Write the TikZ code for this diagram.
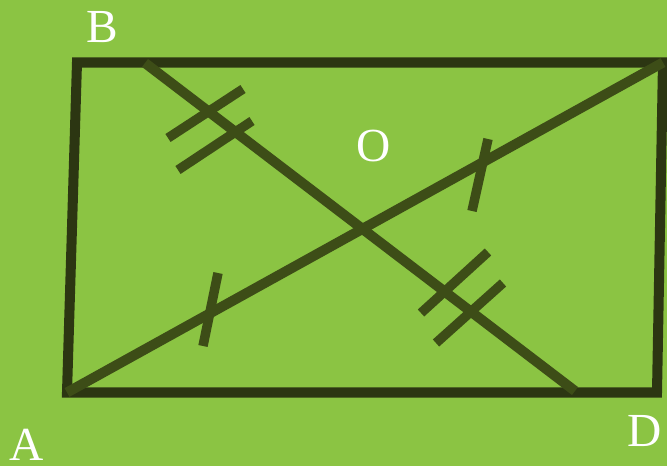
\documentclass[tikz,border=0pt]{standalone}
\usepackage{fontspec}
\setmainfont{Liberation Serif}
\usetikzlibrary{positioning}
\definecolor{leaf}{HTML}{8BC443}
\definecolor{frame}{HTML}{2C3612}
\definecolor{diag}{HTML}{3D4D17}

\begin{document}
\begin{tikzpicture}[x=0.02cm,y=-0.02cm,
                    side/.style={draw=frame,line width=5.7pt,line join=miter},
                    diagline/.style={draw=diag,line width=5.7pt},
                    tick/.style={draw=diag,line width=5.4pt},
                    vertex/.style={text=white,font=\fontsize{27}{30}\selectfont,inner sep=0pt}
                    ]
  \fill[leaf] (0,0) rectangle (667,466);
  \useasboundingbox (0,0) rectangle (667,466);

  % corners of the figure
  \coordinate (a) at (67,392.5);
  \coordinate (b) at (77,62.5);
  \coordinate (c) at (663,62.5);
  \coordinate (d) at (657,392.5);
  % ends of the second diagonal
  \coordinate (p) at (145,63);
  \coordinate (q) at (575,391);

  \draw[side] (a) -- (b) -- (c) -- (d) -- cycle;
  \draw[diagline] (a) -- (c);
  \draw[diagline] (p) -- (q);

  % equal halves
  \coordinate (t1s) at (168,138);  \coordinate (t1e) at (243,89);
  \coordinate (t2s) at (178,170);  \coordinate (t2e) at (252,121);
  \coordinate (t3s) at (421,313);  \coordinate (t3e) at (488,252);
  \coordinate (t4s) at (436,343);  \coordinate (t4e) at (503,283);
  \coordinate (t5s) at (472,211);  \coordinate (t5e) at (488,139);
  \coordinate (t6s) at (203,346);  \coordinate (t6e) at (218,273);
  \path[tick] (t1s) -- (t1e) (t2s) -- (t2e)
              (t3s) -- (t3e) (t4s) -- (t4e)
              (t5s) -- (t5e) (t6s) -- (t6e);

  \node[vertex] (B) at (102,27) {B};
  \node[vertex] (O) at (374,146) {O};
  \node[vertex] (A) at (27,445) {A};
  \node[vertex] (D) at (645,431) {D};
\end{tikzpicture}
\end{document}
